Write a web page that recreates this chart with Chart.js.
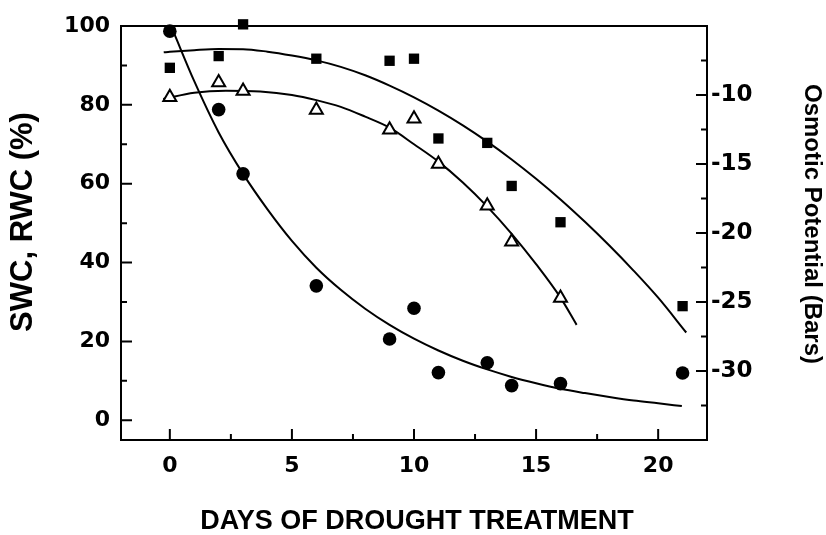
<!DOCTYPE html>
<html>
<head>
<meta charset="utf-8">
<script src="https://cdn.jsdelivr.net/npm/chart.js@4/dist/chart.umd.min.js"></script>
<style>
  html, body { margin: 0; padding: 0; background: #fff; }
</style>
</head>
<body>
<canvas id="chart" width="826" height="535"></canvas>
<script>
// Measured samples (days of drought)
const days = [0, 2, 3, 6, 9, 10, 11, 13, 14, 16, 21];
const swc = [98.7, 78.8, 62.5, 34.1, 20.6, 28.4, 12.1, 14.6, 8.8, 9.3, 12.0];
const rwcDays = [0, 2, 3, 6, 9, 10, 11, 13, 14, 16];
const rwc = [81.9, 85.7, 83.5, 78.7, 73.7, 76.5, 65.0, 54.4, 45.3, 31.0];
const osmotic = [-8.03, -7.18, -4.88, -7.37, -7.52, -7.37, -13.15, -13.47, -16.59, -19.22, -25.30];

// Fitted trend lines
const swcFitDays = [0.15, 1, 2, 3, 4, 5, 6, 7, 8, 9, 10, 11, 12, 13, 14, 15, 16, 17, 18, 19, 20, 20.97];
const swcFit = [98.5, 86.0, 73.0, 62.5, 53.5, 45.5, 38.7, 33.1, 28.3, 24.2, 20.7, 17.7, 15.1, 12.9, 11.0, 9.4, 8.0, 6.9, 5.9, 5.0, 4.3, 3.6];
const rwcFitDays = [-0.27, 1, 2.3, 3.7, 5, 6, 7, 8, 9, 10, 11, 12, 13, 14, 15, 16, 16.66];
const rwcFit = [81.5, 83.1, 83.6, 83.4, 82.5, 81.2, 79.5, 77.0, 74.2, 70.0, 65.6, 60.3, 54.2, 47.3, 39.6, 31.1, 24.2];
const osmFitDays = [-0.25, 0, 1, 2, 3, 4, 5, 6, 7, 8, 9, 10, 11, 12, 13, 14, 15, 16, 17, 18, 19, 20, 21.15];
const osmFit = [-6.91, -6.87, -6.75, -6.67, -6.68, -6.86, -7.14, -7.49, -7.96, -8.57, -9.32, -10.17, -11.13, -12.20, -13.38, -14.67, -16.07, -17.57, -19.19, -20.91, -22.74, -24.69, -27.21];

// Axis ticks
const xMajor = [0, 5, 10, 15, 20];
const xMinor = [2.5, 7.5, 12.5, 17.5];
const leftMajor = [0, 20, 40, 60, 80, 100];
const leftMinor = [10, 30, 50, 70, 90];
const rightMajor = [-10, -15, -20, -25, -30];
const rightMinor = [-7.5, -12.5, -17.5, -22.5, -27.5, -32.5];

// Axis titles
const xTitle = 'DAYS OF DROUGHT TREATMENT';
const leftTitle = 'SWC, RWC (%)';
const rightTitle = 'Osmotic Potential (Bars)';

const pts = (xs, ys) => xs.map((x, i) => ({ x, y: ys[i] }));

const tickFont = { family: '"DejaVu Sans"', weight: 'bold', size: 22 };

// Frame, inward tick marks and axis titles
const frame = {
  id: 'frame',
  beforeDatasetsDraw(chart) {
    const { ctx, chartArea: a, scales } = chart;
    ctx.save();
    ctx.strokeStyle = '#000';
    ctx.lineWidth = 2;
    ctx.strokeRect(a.left, a.top, a.right - a.left, a.bottom - a.top);
    ctx.beginPath();
    const xMarks = (vals, len) => vals.forEach(v => {
      const p = scales.x.getPixelForValue(v);
      ctx.moveTo(p, a.bottom); ctx.lineTo(p, a.bottom - len);
    });
    const lMarks = (vals, len) => vals.forEach(v => {
      const p = scales.y.getPixelForValue(v);
      ctx.moveTo(a.left, p); ctx.lineTo(a.left + len, p);
    });
    const rMarks = (vals, len) => vals.forEach(v => {
      const p = scales.y2.getPixelForValue(v);
      ctx.moveTo(a.right, p); ctx.lineTo(a.right - len, p);
    });
    xMarks(xMajor, 11); xMarks(xMinor, 6);
    lMarks(leftMajor, 11); lMarks(leftMinor, 6);
    rMarks(rightMajor, 11); rMarks(rightMinor, 6);
    ctx.stroke();
    ctx.restore();
  },
  afterDraw(chart) {
    const { ctx, chartArea: a } = chart;
    ctx.save();
    ctx.fillStyle = '#000';
    ctx.textAlign = 'center';
    ctx.textBaseline = 'middle';
    ctx.font = 'bold 27px "Liberation Sans"';
    ctx.fillText(xTitle, (a.left + a.right) / 2 + 3, 522);
    ctx.save();
    ctx.translate(23, 222);
    ctx.rotate(-Math.PI / 2);
    ctx.font = 'bold 31px "Liberation Sans"';
    ctx.fillText(leftTitle, 0, 0);
    ctx.restore();
    ctx.save();
    ctx.translate(812, 224);
    ctx.rotate(Math.PI / 2);
    ctx.font = 'bold 24px "Liberation Sans"';
    ctx.fillText(rightTitle, 0, 0);
    ctx.restore();
    ctx.restore();
  }
};

const fitLine = (data, axis) => ({
  type: 'line', data, yAxisID: axis, showLine: true,
  borderColor: '#000', borderWidth: 2, pointRadius: 0,
  cubicInterpolationMode: 'monotone', fill: false, order: 1
});

new Chart(document.getElementById('chart'), {
  type: 'scatter',
  data: {
    datasets: [
      fitLine(pts(swcFitDays, swcFit), 'y'),
      fitLine(pts(rwcFitDays, rwcFit), 'y'),
      fitLine(pts(osmFitDays, osmFit), 'y2'),
      {
        label: 'SWC', data: pts(days, swc), yAxisID: 'y', clip: false,
        pointStyle: 'circle', pointRadius: 6.8, backgroundColor: '#000', borderColor: '#000', borderWidth: 0, order: 2
      },
      {
        label: 'RWC', data: pts(rwcDays, rwc), yAxisID: 'y', clip: false,
        pointStyle: 'triangle', pointRadius: 7.5, backgroundColor: '#fff', borderColor: '#000', borderWidth: 2, order: 0
      },
      {
        label: 'Osmotic potential', data: pts(days, osmotic), yAxisID: 'y2', clip: false,
        pointStyle: 'rect', pointRadius: 7.3, backgroundColor: '#000', borderColor: '#000', borderWidth: 0, order: 2
      }
    ]
  },
  options: {
    responsive: false,
    animation: false,
    devicePixelRatio: 1,
    layout: { padding: { top: 26, left: 0, right: 0, bottom: 0 } },
    plugins: { legend: { display: false }, tooltip: { enabled: false } },
    scales: {
      x: {
        type: 'linear', position: 'bottom', min: -2, max: 22,
        grid: { display: false, drawTicks: false }, border: { display: false },
        afterFit: s => { s.height = 95; },
        ticks: {
          stepSize: 5, padding: 13, color: '#000', font: tickFont,
          callback: v => (xMajor.includes(v) ? String(v) : '')
        }
      },
      y: {
        type: 'linear', position: 'left', min: -5, max: 100,
        grid: { display: false, drawTicks: false }, border: { display: false },
        afterFit: s => { s.width = 121; },
        ticks: {
          stepSize: 20, padding: 11, color: '#000', font: tickFont, includeBounds: false,
          callback: v => (leftMajor.includes(v) ? String(v) : '')
        }
      },
      y2: {
        type: 'linear', position: 'right', min: -35, max: -5,
        grid: { display: false, drawTicks: false }, border: { display: false },
        afterFit: s => { s.width = 119; },
        ticks: {
          stepSize: 5, padding: 4, color: '#000', font: { family: '"DejaVu Sans"', weight: 'bold', size: 23 },
          callback: v => (rightMajor.includes(v) ? String(v) : '')
        }
      }
    }
  },
  plugins: [frame]
});
</script>
</body>
</html>
